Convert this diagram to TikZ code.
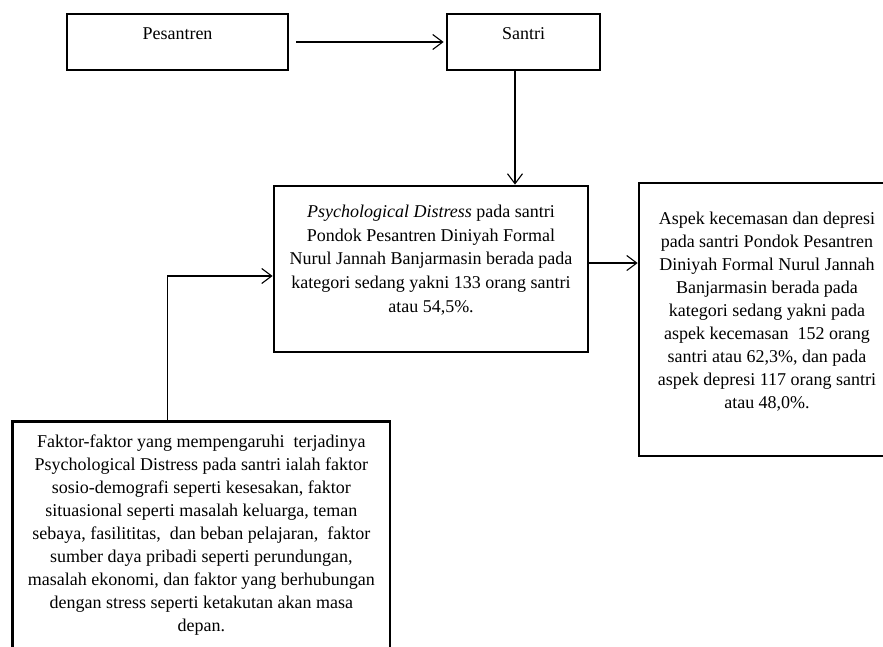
\documentclass[tikz,border=0pt]{standalone}
\usepackage{fontspec}
\setmainfont{Liberation Serif}
\usetikzlibrary{arrows.meta}
\tikzset{
  boxnode/.style={draw=black, line width=2.7pt, rectangle, inner sep=0pt, fill=white},
  txt/.style={inner sep=0pt, align=center, text=black, font=\fontsize{18}{23}\selectfont},
  conn/.style={draw=black, line width=1.1pt, -{Straight Barb[length=10pt,width=15pt,line width=1.1pt]}}
}
\begin{document}
\begin{tikzpicture}[x=1pt,y=-1pt]
\useasboundingbox[fill=white] (0,0) rectangle (883,646);
\begin{scope}
\clip (0,0) rectangle (883,646);
% boxes
\node[boxnode, minimum width=221pt, minimum height=56pt] (pes) at (177.5,42) {};
\node[boxnode, minimum width=153pt, minimum height=56pt] (san) at (523.5,42) {};
\node[boxnode, minimum width=314pt, minimum height=166pt] (mid) at (431,269) {};
\node[boxnode, minimum width=256pt, minimum height=273pt] (rt) at (767,319.5) {};
\node[boxnode, minimum width=377.3pt, minimum height=250pt] (bot) at (201.3,546.7) {};
% texts
\node[txt, anchor=base] (pest) at (177.5,39) {Pesantren};
\node[txt, anchor=base] (sant) at (523.5,39) {Santri};
\node[txt, anchor=north, font=\fontsize{18}{23.6}\selectfont] (midt) at (431,205) {\textit{Psychological Distress} pada santri\\
Pondok Pesantren Diniyah Formal\\
Nurul Jannah Banjarmasin berada pada\\
kategori sedang yakni 133 orang santri\\
atau 54,5\%.};
\node[txt, anchor=north] (rtt) at (767,211.5) {Aspek kecemasan dan depresi\\
pada santri Pondok Pesantren\\
Diniyah Formal Nurul Jannah\\
Banjarmasin berada pada\\
kategori sedang yakni pada\\
aspek kecemasan\ \ 152 orang\\
santri atau 62,3\%, dan pada\\
aspek depresi 117 orang santri\\
atau 48,0\%.};
\node[txt, anchor=north] (bott) at (201.3,435) {Faktor-faktor yang mempengaruhi\ \ terjadinya\\
Psychological Distress pada santri ialah faktor\\
sosio-demografi seperti kesesakan, faktor\\
situasional seperti masalah keluarga, teman\\
sebaya, fasilititas,\ \ dan beban pelajaran,\ \ faktor\\
sumber daya pribadi seperti perundungan,\\
masalah ekonomi, dan faktor yang berhubungan\\
dengan stress seperti ketakutan akan masa\\
depan.};
% helper coordinates
\coordinate (sx) at (515,0);
\coordinate (ry) at (0,263);
\coordinate (bx) at (167.7,0);
\coordinate (by) at (0,276);
% connectors
\draw[conn, shorten <=7pt, shorten >=2pt] (pes.east) -- (san.west);
\draw[conn] (san.south -| sx) -- (mid.north -| sx);
\draw[conn] (mid.east |- ry) -- (rt.west |- ry);
\draw[conn] (bot.north -| bx) |- (mid.west |- by);
\end{scope}
\end{tikzpicture}
\end{document}
